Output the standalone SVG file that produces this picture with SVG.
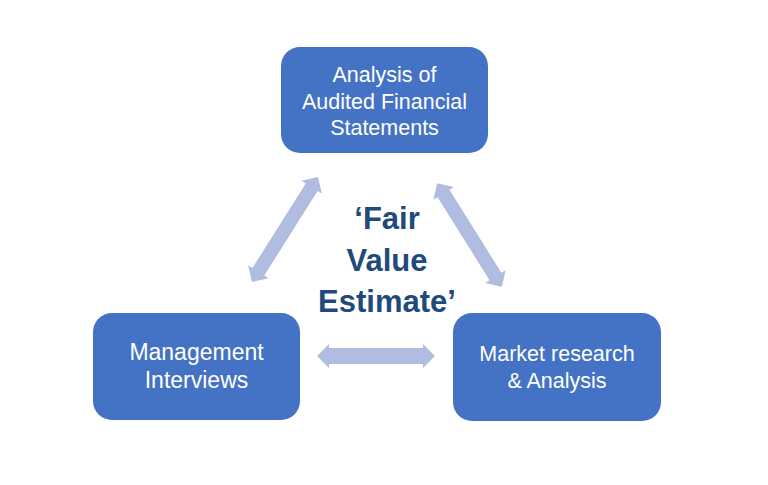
<svg xmlns="http://www.w3.org/2000/svg" width="768" height="485" viewBox="0 0 768 485">
<style>
.box{fill:#4472C4;}
.bt{fill:#ffffff;font-family:"Liberation Sans",Arial,sans-serif;font-size:21.5px;text-anchor:middle;}
.big{font-size:23px;}
.ct{fill:#1F4A7C;font-family:"Liberation Sans",Arial,sans-serif;font-size:31px;font-weight:bold;text-anchor:middle;}
.arr{fill:#B0BCE0;}
</style>
<rect width="768" height="485" fill="#ffffff"/>
<g id="connectors">
<polygon class="arr" transform="translate(285,229.5) rotate(-57.8)" points="-62,0 -50,-12 -50,-7 50,-7 50,-12 62,0 50,12 50,7 -50,7 -50,12"/>
<polygon class="arr" transform="translate(469.5,235) rotate(58)" points="-61,0 -49,-12 -49,-7 49,-7 49,-12 61,0 49,12 49,7 -49,7 -49,12"/>
<polygon class="arr" transform="translate(376,356)" points="-59,0 -47,-12 -47,-8 47,-8 47,-12 59,0 47,12 47,8 -47,8 -47,12"/>
</g>
<g id="center">
<text class="ct" x="387" y="229">‘Fair</text>
<text class="ct" x="387" y="271">Value</text>
<text class="ct" x="387" y="312">Estimate’</text>
</g>
<g id="node-audited">
<rect class="box" x="281" y="47" width="207" height="106" rx="19"/>
<text class="bt" x="384.5" y="82">Analysis of</text>
<text class="bt" x="384.5" y="108.5">Audited Financial</text>
<text class="bt" x="384.5" y="135">Statements</text>
</g>
<g id="node-management">
<rect class="box" x="93" y="313" width="207" height="107" rx="19"/>
<text class="bt big" x="196.5" y="360">Management</text>
<text class="bt big" x="196.5" y="388">Interviews</text>
</g>
<g id="node-market">
<rect class="box" x="453" y="313" width="208" height="108" rx="19"/>
<text class="bt" x="557" y="360.5">Market research</text>
<text class="bt" x="557" y="388">&amp; Analysis</text>
</g>
</svg>
